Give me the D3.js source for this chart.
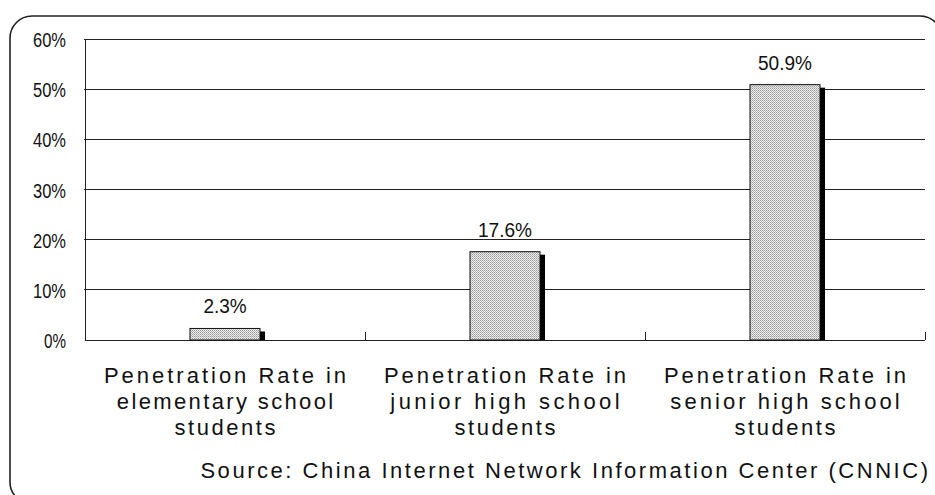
<!DOCTYPE html>
<html><head><meta charset="utf-8">
<script src="https://cdn.jsdelivr.net/npm/d3@7"></script>
<style>
html,body{margin:0;padding:0;background:#fff;overflow:hidden}
svg{display:block}
</style></head>
<body>
<script>
const categories = [
  ["Penetration Rate in","elementary school","students"],
  ["Penetration Rate in","junior high school","students"],
  ["Penetration Rate in","senior high school","students"]
];
const values = [2.3, 17.6, 50.9];
const valueLabels = ["2.3%","17.6%","50.9%"];
const yTicks = [0,10,20,30,40,50,60];
const sourceText = "Source: China Internet Network Information Center (CNNIC)";

(function(){
const W = 935, H = 495;
const FONT = "'Liberation Sans',Arial,sans-serif";
const svg = d3.select("body").append("svg").attr("width", W).attr("height", H);

const defs = svg.append("defs");
const pat = defs.append("pattern").attr("id","dots").attr("patternUnits","userSpaceOnUse")
  .attr("width",2).attr("height",2);
pat.append("rect").attr("width",2).attr("height",2).attr("fill","#ececec");
pat.append("rect").attr("x",0).attr("y",0).attr("width",1).attr("height",1).attr("fill","#9a9a9a");
pat.append("rect").attr("x",1).attr("y",1).attr("width",1).attr("height",1).attr("fill","#b8b8b8");

// frame
svg.append("rect").attr("x",10).attr("y",16).attr("width",932).attr("height",488)
  .attr("rx",22).attr("ry",22).attr("fill","none").attr("stroke","#222").attr("stroke-width",1.6);

const pL = 85, pR = 925, pT = 39, pB = 340;
const x = d3.scaleBand().domain(d3.range(categories.length)).range([pL,pR]).padding(0);
const y = d3.scaleLinear().domain([0,60]).range([pB, pT]);

// gridlines
svg.append("g").selectAll("line").data(yTicks.filter(d=>d>0)).join("line")
  .attr("x1",pL-1).attr("x2",pR).attr("y1",d=>y(d)).attr("y2",d=>y(d))
  .attr("stroke","#222").attr("stroke-width",1).attr("shape-rendering","crispEdges");

// y axis
const yAxis = d3.axisLeft(y).tickValues(yTicks).tickFormat(d=>d+"%").tickSize(0).tickPadding(19);
const gy = svg.append("g").attr("transform",`translate(${pL},0)`).call(yAxis);
gy.select(".domain").attr("stroke","#222").attr("shape-rendering","crispEdges");
gy.selectAll("text").attr("font-family",FONT)
  .attr("font-size",20).attr("fill","#111").attr("dy","0.38em")
  .attr("textLength",function(){return this.textContent.length*11;})
  .attr("lengthAdjust","spacingAndGlyphs");

// x axis
svg.append("line").attr("x1",pL).attr("x2",pR).attr("y1",pB).attr("y2",pB)
  .attr("stroke","#222").attr("shape-rendering","crispEdges");
svg.append("g").selectAll("line").data(d3.range(categories.length)).join("line")
  .attr("x1",d=>x(d)+x.bandwidth()).attr("x2",d=>x(d)+x.bandwidth())
  .attr("y1",pB-8).attr("y2",pB).attr("stroke","#222").attr("shape-rendering","crispEdges");

const bw = x.bandwidth()*0.25;
const bx = i => x(i) + x.bandwidth()/2 - bw/2;

// shadows
svg.append("g").selectAll("rect").data(values).join("rect")
  .attr("x",(d,i)=>bx(i)+5).attr("y",d=>y(d)+3).attr("width",bw).attr("height",d=>pB-(y(d)+3))
  .attr("fill","#000");
// bars
svg.append("g").selectAll("rect").data(values).join("rect")
  .attr("x",(d,i)=>bx(i)).attr("y",d=>y(d)).attr("width",bw).attr("height",d=>pB-y(d))
  .attr("fill","url(#dots)").attr("stroke","#111").attr("stroke-width",1);

// value labels
svg.append("g").selectAll("text").data(values).join("text")
  .attr("x",(d,i)=>x(i)+x.bandwidth()/2).attr("y",d=>y(d)-15)
  .attr("text-anchor","middle").attr("font-family",FONT)
  .attr("font-size",20).attr("fill","#111").text((d,i)=>valueLabels[i])
  .attr("textLength",(d,i)=>valueLabels[i].length*10.8).attr("lengthAdjust","spacingAndGlyphs");

// category labels
const cg = svg.append("g");
categories.forEach((lines,i)=>{
  lines.forEach((ln,j)=>{
    cg.append("text").attr("x",x(i)+x.bandwidth()/2).attr("y",383+j*26)
      .attr("text-anchor","middle").attr("font-family",FONT)
      .attr("font-size",22).attr("fill","#111").text(ln)
      .attr("textLength",ln.length*12.85-2).attr("lengthAdjust","spacing");
  });
});

// source
svg.append("text").attr("x",928).attr("y",478).attr("text-anchor","end")
  .attr("font-family",FONT).attr("font-size",22).attr("fill","#111")
  .attr("textLength",sourceText.length*12.8-2).attr("lengthAdjust","spacing")
  .text(sourceText);
})();
</script>
</body></html>
